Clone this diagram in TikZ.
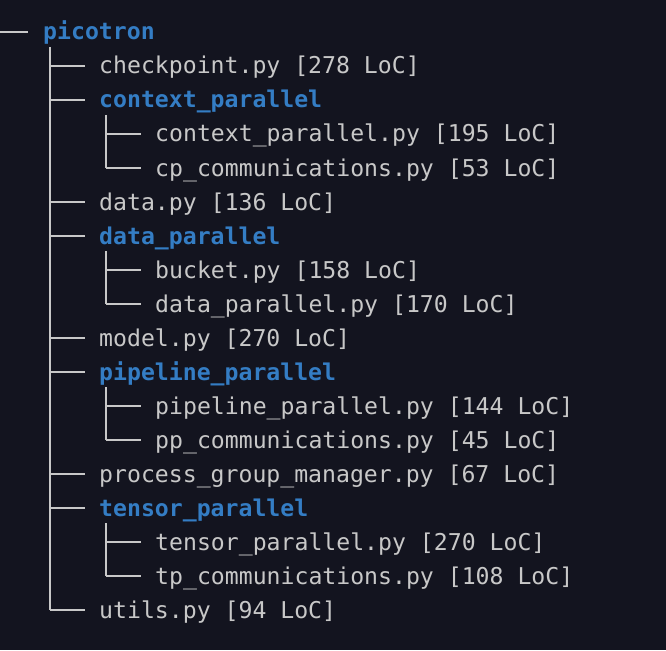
\documentclass[tikz,border=0pt]{standalone}
\usepackage{fontspec}
\newfontfamily\dmono{DejaVu Sans Mono}
\definecolor{bgc}{HTML}{13141F}
\definecolor{txc}{HTML}{C8C8C8}
\definecolor{dirc}{HTML}{347DC4}
\begin{document}
\begin{tikzpicture}[x=1pt,y=-1pt,
  file/.style={anchor=base west,inner sep=0pt,text=txc,font=\dmono\fontsize{23.15}{23}\selectfont},
  dir/.style={anchor=base west,inner sep=0pt,text=dirc,font=\dmono\bfseries\fontsize{23.15}{23}\selectfont},
  tree/.style={draw=txc,line width=1.8pt}]
\fill[bgc] (0,0) rectangle (666,650);
\useasboundingbox (0,0) rectangle (666,650);
% root
\node[dir] (n0) at (43,40) {picotron};
\draw[tree] (0,32) -- (28,32);
% level 1 vertical
\coordinate (v1top) at (50,47);
\coordinate (v1bot) at (50,610);
\draw[tree] (v1top) -- (v1bot);
% level 1 items
\node[file] (n1) at (99,74) {checkpoint.py [278 LoC]};
\node[dir] (n2) at (99,108) {context\_parallel};
\node[file] (n5) at (99,210) {data.py [136 LoC]};
\node[dir] (n6) at (99,244) {data\_parallel};
\node[file] (n9) at (99,346) {model.py [270 LoC]};
\node[dir] (n10) at (99,380) {pipeline\_parallel};
\node[file] (n13) at (99,482) {process\_group\_manager.py [67 LoC]};
\node[dir] (n14) at (99,516) {tensor\_parallel};
\node[file] (n17) at (99,618) {utils.py [94 LoC]};
\foreach \y in {66,100,202,236,338,372,474,508,610}
  \draw[tree] (50,\y) -- (85,\y);
% level 2 items
\node[file] (n3) at (155,142) {context\_parallel.py [195 LoC]};
\node[file] (n4) at (155,176) {cp\_communications.py [53 LoC]};
\node[file] (n7) at (155,278) {bucket.py [158 LoC]};
\node[file] (n8) at (155,312) {data\_parallel.py [170 LoC]};
\node[file] (n11) at (155,414) {pipeline\_parallel.py [144 LoC]};
\node[file] (n12) at (155,448) {pp\_communications.py [45 LoC]};
\node[file] (n15) at (155,550) {tensor\_parallel.py [270 LoC]};
\node[file] (n16) at (155,584) {tp\_communications.py [108 LoC]};
% level 2 verticals and branches
\foreach \a/\b in {115/168,251/304,387/440,523/576}
  \draw[tree] (106,\a) -- (106,\b);
\foreach \y in {134,168,270,304,406,440,542,576}
  \draw[tree] (106,\y) -- (141,\y);
\end{tikzpicture}
\end{document}
